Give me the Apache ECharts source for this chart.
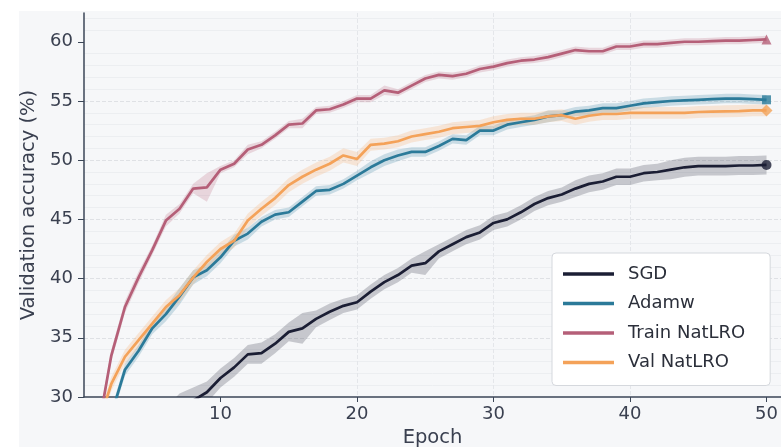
<!DOCTYPE html>
<html>
<head>
<meta charset="utf-8">
<script src="https://cdn.jsdelivr.net/npm/echarts@6/dist/echarts.min.js"></script>
<style>html,body{margin:0;padding:0;background:#fff}#c{width:781px;height:447px}</style>
</head>
<body>
<div id="c"></div>
<script>
const epochs = [1,2,3,4,5,6,7,8,9,10,11,12,13,14,15,16,17,18,19,20,21,22,23,24,25,26,27,28,29,30,31,32,33,34,35,36,37,38,39,40,41,42,43,44,45,46,47,48,49,50];
const seriesNames = ['SGD','Adamw','Train NatLRO','Val NatLRO'];
const xTicks = [10,20,30,40,50];
const yTicks = [30,35,40,45,50,55,60];

const sgd = [18.0,21.0,23.5,25.2,26.5,27.6,28.8,29.7,30.4,31.6,32.5,33.6,33.7,34.5,35.5,35.8,36.6,37.2,37.7,38.0,38.9,39.7,40.3,41.1,41.3,42.3,42.9,43.5,43.9,44.7,45.0,45.6,46.3,46.8,47.1,47.6,48.0,48.2,48.6,48.6,48.9,49.0,49.2,49.4,49.5,49.5,49.5,49.55,49.55,49.6];
const sgdStd = [1.5,1.5,1.5,1.5,1.5,1.5,1.5,1.1,0.9,0.8,0.8,0.8,0.9,0.8,0.8,1.3,0.7,0.7,0.6,0.6,0.6,0.6,0.6,0.6,1.0,0.6,0.6,0.6,0.6,0.6,0.6,0.6,0.6,0.6,0.6,0.7,0.7,0.7,0.7,0.7,0.7,0.7,0.8,0.8,0.8,0.8,0.8,0.8,0.8,0.8];

const adamw = [25.0,28.5,32.3,33.9,35.8,37.0,38.5,40.1,40.7,41.8,43.2,43.8,44.8,45.4,45.6,46.5,47.4,47.5,48.0,48.7,49.4,50.0,50.4,50.7,50.7,51.2,51.8,51.7,52.5,52.5,53.0,53.2,53.4,53.7,53.8,54.1,54.2,54.4,54.4,54.6,54.8,54.9,55.0,55.05,55.1,55.15,55.2,55.2,55.15,55.1];
const adamwStd = [0.5,0.5,0.5,0.5,0.5,0.6,0.7,0.6,0.5,0.5,0.5,0.5,0.4,0.4,0.4,0.4,0.4,0.4,0.4,0.4,0.5,0.5,0.5,0.4,0.4,0.4,0.4,0.4,0.4,0.4,0.4,0.4,0.4,0.5,0.4,0.4,0.4,0.4,0.4,0.4,0.4,0.4,0.4,0.4,0.4,0.4,0.4,0.4,0.4,0.4];

const train = [27.0,33.5,37.6,40.1,42.4,44.9,45.9,47.6,47.7,49.2,49.7,50.9,51.3,52.1,53.0,53.1,54.2,54.3,54.7,55.2,55.2,55.9,55.7,56.3,56.9,57.2,57.1,57.3,57.7,57.9,58.2,58.4,58.5,58.7,59.0,59.3,59.2,59.2,59.6,59.6,59.8,59.8,59.9,60.0,60.0,60.05,60.1,60.1,60.15,60.2];
const trainStd = [0.5,0.5,0.5,0.5,0.4,0.5,0.4,0.4,1.2,0.3,0.3,0.4,0.3,0.3,0.3,0.4,0.3,0.3,0.3,0.3,0.3,0.4,0.3,0.3,0.3,0.3,0.3,0.3,0.3,0.3,0.3,0.3,0.3,0.3,0.3,0.3,0.3,0.3,0.3,0.3,0.3,0.3,0.3,0.3,0.3,0.3,0.3,0.3,0.3,0.3];

const val = [27.5,31.1,33.4,34.8,36.2,37.6,38.6,40.1,41.4,42.5,43.2,44.9,45.9,46.8,47.9,48.6,49.2,49.7,50.4,50.1,51.3,51.4,51.6,52.0,52.2,52.4,52.7,52.8,52.9,53.2,53.4,53.5,53.5,53.7,53.8,53.5,53.75,53.9,53.9,54.0,54.0,54.0,54.0,54.0,54.07,54.1,54.13,54.15,54.2,54.2];
const valStd = [0.6,0.6,0.6,0.6,0.6,0.6,0.6,0.6,0.6,0.6,0.6,0.6,0.6,0.6,0.6,0.6,0.6,0.6,0.6,0.6,0.5,0.5,0.5,0.5,0.5,0.5,0.5,0.5,0.5,0.5,0.5,0.5,0.5,0.5,0.5,0.5,0.5,0.5,0.5,0.5,0.5,0.5,0.5,0.5,0.5,0.5,0.5,0.5,0.5,0.5];

const colors = ['#1b1e34','#2b7a99','#b55f78','#f4a259'];
const markers = ['circle','rect','triangle','diamond'];
const markerSizes = [10,9,10,12];
const means = [sgd, adamw, train, val];
const stds = [sgdStd, adamwStd, trainStd, valStd];

function hexA(hex, a){
  const n = parseInt(hex.slice(1),16);
  return 'rgba(' + ((n>>16)&255) + ',' + ((n>>8)&255) + ',' + (n&255) + ',' + a + ')';
}

const series = [];
means.forEach((m, i) => {
  const s = stds[i];
  const bandData = epochs.map((e, k) => [e, m[k] - s[k], m[k] + s[k]]);
  series.push({
    name: seriesNames[i] + '_band', type: 'custom', z: 1, silent: true,
    encode: {x: 0, y: [1, 2]},
    data: bandData,
    renderItem: function (params, api) {
      if (params.dataIndex !== 0) return null;
      const pts = [];
      for (let k = 0; k < bandData.length; k++) pts.push(api.coord([bandData[k][0], bandData[k][1]]));
      for (let k = bandData.length - 1; k >= 0; k--) pts.push(api.coord([bandData[k][0], bandData[k][2]]));
      const cs = params.coordSys;
      return {
        type: 'group',
        clipPath: {type: 'rect', shape: {x: cs.x, y: cs.y, width: cs.width, height: cs.height}},
        children: [{
          type: 'polygon',
          shape: {points: pts},
          style: {fill: hexA(colors[i], 0.22), stroke: null}
        }]
      };
    }
  });
});
means.forEach((m, i) => {
  series.push({
    name: seriesNames[i], type: 'line', symbol: 'none', z: 3,
    color: colors[i],
    lineStyle: {color: colors[i], width: 2.7},
    data: epochs.map((e, k) => [e, m[k]])
  });
});
means.forEach((m, i) => {
  const last = epochs.length - 1;
  series.push({
    name: seriesNames[i] + '_end', type: 'scatter', z: 4,
    symbol: markers[i], symbolSize: markerSizes[i],
    itemStyle: {color: colors[i]},
    data: [[epochs[last], m[last]]]
  });
});

const chart = echarts.init(document.getElementById('c'), null, {renderer: 'canvas'});
const font = 'DejaVu Sans';
const labelColor = '#3a4050';
const axisColor = '#3b4657';
chart.setOption({
  animation: false,
  backgroundColor: '#ffffff',
  graphic: [{
    type: 'rect', z: -10, silent: true,
    shape: {x: 19, y: 11, width: 781, height: 447},
    style: {fill: '#f6f7f9'}
  }],
  grid: {left: 84, top: 13, right: 0, bottom: 50, containLabel: false, outerBoundsMode: 'none'},
  legend: {
    data: seriesNames.map(n => ({name: n, icon: 'rect'})),
    orient: 'vertical',
    left: 552, top: 253,
    itemWidth: 51, itemHeight: 3.5, itemGap: 11.5,
    padding: [12, 25, 14, 11],
    backgroundColor: '#ffffff',
    borderColor: '#d5d8dd', borderWidth: 1, borderRadius: 4,
    textStyle: {fontFamily: font, fontSize: 18, color: '#2b2f3a', padding: [0, 0, 0, 9]}
  },
  xAxis: {
    type: 'value', min: 0, max: 51.06, interval: 10,
    name: 'Epoch', nameLocation: 'middle', nameGap: 30,
    nameTextStyle: {fontFamily: font, fontSize: 19.5, color: labelColor},
    axisLine: {show: true, lineStyle: {color: axisColor, width: 1.5}},
    axisTick: {show: true, length: 5, lineStyle: {color: axisColor}, customValues: xTicks},
    axisLabel: {fontFamily: font, fontSize: 18, color: labelColor, margin: 8, customValues: xTicks},
    splitLine: {show: true, showMinLine: false, showMaxLine: false, lineStyle: {color: '#e4e6ea', type: 'dashed', width: 1}}
  },
  yAxis: {
    type: 'value', min: 30, max: 62.43, interval: 5,
    name: 'Validation accuracy (%)', nameLocation: 'middle', nameGap: 38,
    nameTextStyle: {fontFamily: font, fontSize: 19.5, color: labelColor},
    axisLine: {show: true, lineStyle: {color: axisColor, width: 1.5}},
    axisTick: {show: true, length: 6, lineStyle: {color: axisColor}, customValues: yTicks},
    axisLabel: {fontFamily: font, fontSize: 18, color: labelColor, margin: 11, customValues: yTicks},
    splitLine: {show: true, showMinLine: false, showMaxLine: false, lineStyle: {color: '#dfe1e5', type: 'dashed', width: 1}},
    minorTick: {show: false, splitNumber: 5},
    minorSplitLine: {show: true, lineStyle: {color: '#eceef1', width: 1}}
  },
  series: series
});
</script>
</body>
</html>
